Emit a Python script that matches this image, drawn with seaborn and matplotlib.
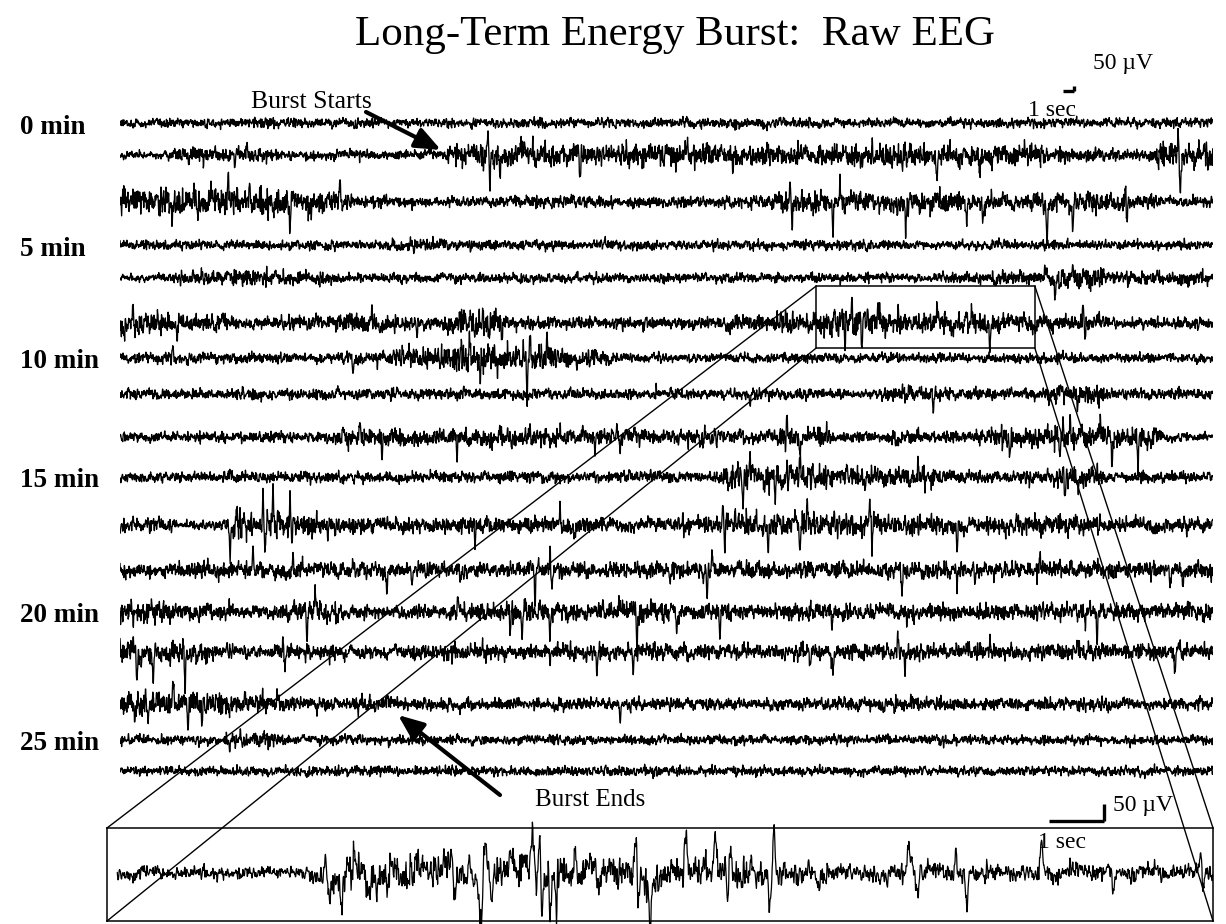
import numpy as np
import pandas as pd
import matplotlib
matplotlib.use("Agg")
import matplotlib.pyplot as plt
import seaborn as sns
from matplotlib.patches import Rectangle, ConnectionPatch

# ---------------- data ----------------
TITLE = "Long-Term Energy Burst:  Raw EEG"
ROW_SECONDS = 100.0                      # each trace row covers 100 s
ROW_LABELS = ["0 min", "5 min", "10 min", "15 min", "20 min", "25 min"]
ROW_LABEL_ROWS = [0, 3, 6, 9, 12, 15]

# per-row amplitude envelope (half-height of the trace band, µV), 20 segments of 5 s
ROW_ENVELOPE_UV = [
    [35, 35, 40, 35, 35, 35, 35, 35, 35, 35, 35, 35, 35, 35, 35, 35, 35, 35, 35, 35],
    [30, 60, 50, 35, 35, 40, 90, 80, 80, 80, 90, 80, 80, 90, 90, 80, 80, 60, 40, 90],
    [100, 100, 110, 90, 50, 40, 40, 45, 45, 40, 45, 50, 80, 80, 80, 80, 60, 80, 60, 35],
    [35, 35, 35, 35, 35, 45, 35, 35, 35, 35, 35, 35, 35, 35, 35, 35, 35, 35, 35, 35],
    [30, 50, 60, 50, 35, 35, 35, 35, 35, 35, 35, 35, 35, 35, 35, 35, 60, 80, 50, 50],
    [80, 70, 40, 60, 70, 50, 100, 50, 40, 50, 40, 60, 80, 100, 80, 80, 60, 60, 40, 40],
    [40, 40, 40, 40, 50, 80, 110, 100, 60, 35, 35, 35, 35, 35, 35, 35, 35, 35, 35, 35],
    [40, 40, 40, 40, 40, 40, 40, 40, 40, 40, 40, 40, 40, 40, 60, 45, 40, 70, 40, 40],
    [40, 40, 40, 40, 70, 60, 70, 70, 60, 60, 60, 50, 70, 40, 50, 50, 80, 90, 80, 35],
    [40, 40, 40, 40, 40, 45, 40, 40, 40, 50, 40, 100, 90, 70, 70, 45, 50, 80, 40, 40],
    [50, 40, 100, 80, 60, 60, 60, 60, 60, 50, 60, 90, 90, 90, 70, 70, 70, 70, 60, 60],
    [50, 60, 60, 60, 60, 60, 60, 60, 60, 60, 60, 60, 60, 60, 60, 60, 60, 60, 60, 60],
    [80, 60, 50, 80, 50, 50, 70, 80, 70, 80, 60, 60, 60, 60, 60, 60, 60, 60, 60, 60],
    [80, 80, 50, 60, 50, 60, 60, 60, 60, 60, 60, 60, 60, 60, 60, 60, 60, 60, 60, 60],
    [90, 90, 70, 50, 60, 45, 45, 45, 45, 45, 45, 45, 45, 55, 50, 45, 45, 45, 45, 45],
    [35, 35, 60, 35, 35, 35, 35, 35, 35, 35, 35, 35, 35, 35, 35, 35, 35, 35, 35, 35],
    [35, 35, 35, 35, 35, 35, 35, 35, 35, 35, 35, 35, 35, 35, 35, 35, 35, 35, 35, 35],
]

# prominent spikes per row: (time s, peak µV)
ROW_SPIKES = [
    [(14.0, 50), (56.7, -50), (76.0, 45)],
    [(10.5, -140), (11.6, 80), (33.85, -280), (33.67, 180), (34.77, -200), (42.09, -250),
     (51.88, 160), (56.08, -140), (74.75, -260), (78.68, -200), (96.98, -400), (96.80, 280),
     (99.54, -140)],
    [(4.76, -230), (9.88, 220), (15.55, -320), (20.13, 160), (61.48, -270), (61.30, 170),
     (65.23, -370), (65.87, 170), (71.9, -300), (74.75, 140), (77.49, -220), (78.96, -250),
     (84.81, -400), (87.19, -260), (92.13, -200), (92.0, 140)],
    [(26.9, -70)],
    [(85.54, -180), (84.63, 120)],
    [(1.19, 170), (1.37, -150), (5.21, -150), (8.42, 100), (27.17, -170), (33.21, 180),
     (34.95, -180), (66.33, -250), (66.97, 280), (67.89, -320), (69.35, 200), (71.18, 150),
     (74.75, 140), (77.95, 140), (79.60, -250), (83.53, -120), (88.11, 180), (88.29, -160)],
    [(4.85, 120), (21.32, -180), (32.94, -270), (32.02, 180), (37.24, -320), (37.51, 220),
     (39.07, 220), (38.43, -180), (41.81, -140)],
    [(57.64, -130), (74.4, -200), (85.0, -140), (87.6, -120)],
    [(21.96, 150), (23.97, -220), (30.83, -230), (37.51, 150), (43.46, -150), (45.47, 150),
     (45.75, -150), (61.02, 200), (62.21, -220), (81.43, -200), (86.0, -200), (86.92, 150),
     (89.66, 200), (90.76, -280), (93.14, -250)],
    [(57.0, -250), (57.64, 200), (59.93, -280), (62.21, 180), (66.51, 150), (68.16, -150),
     (73.01, 150), (86.46, -180), (87.65, -140)],
    [(10.06, -250), (10.70, 200), (13.08, 300), (13.27, -270), (14.0, 280), (15.55, 300),
     (15.74, -200), (19.03, -200), (32.48, -200), (40.26, 150), (41.63, -150), (55.17, 170),
     (55.35, -250), (59.29, -270), (62.21, -250), (62.86, 250), (68.62, 230), (68.80, -230),
     (76.58, -300)],
    [(12.17, 170), (15.83, 170), (24.43, -230), (26.72, -150), (31.11, -130), (37.97, -330),
     (39.34, 180), (39.52, -220), (50.32, -150), (53.71, -300), (54.16, 150), (71.55, -250),
     (76.58, -180), (78.04, 160), (78.23, -180), (84.17, 150), (96.07, -200), (97.26, -180)],
    [(0.91, 100), (1.19, -100), (17.11, -300), (17.84, 220), (30.92, 200), (35.68, -230),
     (36.78, -280), (39.34, -300), (44.19, 150), (47.30, -350), (50.96, -200), (54.89, -200),
     (65.14, -180), (72.0, -150), (88.29, -200), (89.39, -300)],
    [(1.19, 180), (1.56, -370), (3.02, -280), (5.76, 130), (5.95, -300), (14.91, 100),
     (15.10, -250), (39.34, -130), (43.64, -220), (46.94, -180), (63.13, -150), (65.23, -220),
     (71.18, 150), (71.82, -250), (79.60, 120), (96.52, -250)],
    [(1.37, -200), (2.56, -180), (4.85, 180), (6.22, -270), (7.50, -180), (14.36, 120),
     (21.77, -120), (45.75, -150)],
    [(10.06, -100), (11.0, 80)],
    [],
]

# zoomed 20 s segment (inset)
INSET_SECONDS = 20.0
INSET_ENVELOPE_UV = [12, 12, 12, 12, 35, 30, 25, 30, 30, 30, 25, 25, 20, 15, 18, 18, 15, 15, 15, 15]
INSET_SPIKES = [
    (0.65, 15), (3.96, 75), (4.02, -81), (4.23, -75), (4.48, 75), (4.76, -66), (5.08, -60),
    (5.12, 51), (6.24, 69), (6.28, -120), (6.56, 45), (6.76, -150), (6.84, 111), (6.96, -90),
    (7.29, 39), (7.54, 60), (7.69, 90), (7.83, 141), (7.86, -150), (8.01, -135), (8.12, -120),
    (8.46, 66), (8.73, 45), (9.49, -69), (9.57, 126), (9.60, -150), (9.82, -90), (10.47, 129),
    (10.81, 60), (11.0, 99), (11.23, -111), (11.27, 90), (11.65, 60), (11.99, -114),
    (12.06, 132), (12.69, 30), (12.88, -39), (14.5, 66), (14.65, -75), (15.35, 54),
    (15.55, -114), (16.9, 84), (18.2, -60), (19.78, 60), (19.82, -54),
]
ZOOM_WINDOW_S = (63.7, 83.7)            # segment of the 6th row shown in the inset

SCALE_SEC = 1.0
SCALE_UV = 50.0

# ---------------- layout (pixels of the 1226x924 canvas) ----------------
W, H = 1226, 924
MAIN_L, MAIN_R, MAIN_T, MAIN_B = 120, 1213, 40, 800     # 10 µV per pixel vertically
UV_PER_PX = 10.0
ROW_BASE_PX = [123, 155, 202, 245, 278, 323, 358, 394, 437, 477, 525, 570, 612, 652, 704, 740, 771]
ROW_OFFSETS = [-(p - MAIN_T) * UV_PER_PX for p in ROW_BASE_PX]
INS_L, INS_R, INS_T, INS_B, INS_BASE = 107, 1213, 828, 921, 873
INS_UV_PER_PX = 3.0

# ---------------- build signals ----------------
rng = np.random.default_rng(5)


def smooth(x, n):
    k = np.ones(n) / n
    return np.convolve(np.pad(x, (n // 2, n - 1 - n // 2), mode="edge"), k, mode="valid")


def build(env, spikes, total, fs, width, slow_frac, div):
    t = np.arange(0, total, 1.0 / fs)
    seg = total / len(env)
    idx = np.minimum((t / seg).astype(int), len(env) - 1)
    e = smooth(np.asarray(env, float)[idx], max(3, int(fs * 0.8)))
    fast = smooth(rng.standard_normal(t.size), 2)
    fast /= fast.std()
    slow = smooth(rng.standard_normal(t.size), max(3, int(fs * 0.25)))
    slow /= slow.std()
    v = e / div * (fast + slow_frac * slow)
    for ts, a in spikes:
        v += a * np.exp(-0.5 * ((t - ts) / width) ** 2)
    return t, v


frames = []
for i, (env, spk) in enumerate(zip(ROW_ENVELOPE_UV, ROW_SPIKES)):
    t, v = build(env, spk, ROW_SECONDS, 40, 0.05, 0.35, 1.7)
    frames.append(pd.DataFrame({"t": t, "v": v + ROW_OFFSETS[i], "row": i}))
df_main = pd.concat(frames, ignore_index=True)

ti, vi = build(INSET_ENVELOPE_UV, INSET_SPIKES, INSET_SECONDS, 140, 0.022, 0.5, 1.3)
mask = ti >= 0.18
df_ins = pd.DataFrame({"t": ti[mask], "v": vi[mask]})

# ---------------- plot ----------------
sns.set_theme(style="white")
plt.rcParams["font.family"] = ["Liberation Serif", "DejaVu Serif"]
plt.rcParams["text.color"] = "black"

fig = plt.figure(figsize=(W / 100, H / 100), dpi=100)
ax = fig.add_axes([MAIN_L / W, 1 - MAIN_B / H, (MAIN_R - MAIN_L) / W, (MAIN_B - MAIN_T) / H])
ax.set_xlim(0, ROW_SECONDS)
ax.set_ylim(-(MAIN_B - MAIN_T) * UV_PER_PX, 0)
sns.lineplot(data=df_main, x="t", y="v", units="row", estimator=None, sort=False,
             color="black", linewidth=0.95, ax=ax, legend=False)
ax.axis("off")

px_per_s = (MAIN_R - MAIN_L) / ROW_SECONDS
def t_of(px):
    return (px - MAIN_L) / px_per_s
def uv_of(py):
    return -(py - MAIN_T) * UV_PER_PX

# row labels
for lab, r in zip(ROW_LABELS, ROW_LABEL_ROWS):
    ax.text(t_of(20), ROW_OFFSETS[r] - 40, lab, ha="left", va="center",
            fontsize=19.5, fontweight="bold", color="black", clip_on=False)

# zoom box on row 6
box_top, box_bot = uv_of(286), uv_of(348)
ax.add_patch(Rectangle((ZOOM_WINDOW_S[0], box_bot), ZOOM_WINDOW_S[1] - ZOOM_WINDOW_S[0],
                       box_top - box_bot, fill=False, ec="black", lw=1.1, zorder=5))

# top scale bar
sb_t0, sb_y = t_of(1063), uv_of(91)
ax.plot([sb_t0, sb_t0 + SCALE_SEC], [sb_y, sb_y], color="black", lw=2.4,
        solid_capstyle="butt", clip_on=False)
ax.plot([sb_t0 + SCALE_SEC, sb_t0 + SCALE_SEC], [sb_y, sb_y + SCALE_UV], color="black",
        lw=2.4, solid_capstyle="butt", clip_on=False)
ax.text(t_of(1093), uv_of(63), "50 µV", ha="left", va="center", fontsize=17, clip_on=False)
ax.text(t_of(1052), uv_of(111), "1 sec", ha="center", va="center", fontsize=17, clip_on=False)

# annotations
arrow_kw = dict(arrowstyle="-|>,head_length=1.1,head_width=0.45", lw=3.0,
                color="black", mutation_scale=14, shrinkA=0, shrinkB=0)
ax.text(t_of(311), uv_of(102), "Burst Starts", ha="center", va="center", fontsize=18.5)
ax.annotate("", xy=(t_of(441), uv_of(150)), xytext=(t_of(366), uv_of(112)),
            arrowprops=arrow_kw)
ax.text(t_of(590), uv_of(800), "Burst Ends", ha="center", va="center", fontsize=18,
        clip_on=False)
ax.annotate("", xy=(t_of(398), uv_of(715)), xytext=(t_of(500), uv_of(795)),
            arrowprops=arrow_kw, annotation_clip=False)

# inset
ax2 = fig.add_axes([INS_L / W, 1 - INS_B / H, (INS_R - INS_L) / W, (INS_B - INS_T) / H])
ax2.set_xlim(0, INSET_SECONDS)
ax2.set_ylim(-(INS_B - INS_BASE) * INS_UV_PER_PX, (INS_BASE - INS_T) * INS_UV_PER_PX)
sns.lineplot(data=df_ins, x="t", y="v", estimator=None, sort=False, color="black",
             linewidth=0.9, ax=ax2, legend=False)
for ln in ax2.lines:
    ln.set_clip_on(False)
ax2.set_xticks([]); ax2.set_yticks([])
ax2.set_xlabel(""); ax2.set_ylabel("")
ax2.set_facecolor("none")
for s in ax2.spines.values():
    s.set_color("black"); s.set_linewidth(1.1); s.set_visible(True)

ipx = (INS_R - INS_L) / INSET_SECONDS
def ti_of(px):
    return (px - INS_L) / ipx
def ui_of(py):
    return (INS_BASE - py) * INS_UV_PER_PX

b_t0, b_y = ti_of(1049), ui_of(821)
ax2.plot([b_t0, b_t0 + SCALE_SEC], [b_y, b_y], color="black", lw=2.4,
         solid_capstyle="butt", clip_on=False)
ax2.plot([b_t0 + SCALE_SEC, b_t0 + SCALE_SEC], [b_y, b_y + SCALE_UV], color="black", lw=2.4,
         solid_capstyle="butt", clip_on=False)
ax2.text(ti_of(1113), ui_of(806), "50 µV", ha="left", va="center", fontsize=17, clip_on=False)
ax2.text(ti_of(1062), ui_of(843), "1 sec", ha="center", va="center", fontsize=17, clip_on=False)

# connector lines
for (xa, ya), (xb, yb) in [((ZOOM_WINDOW_S[0], box_top), (0, 1)), ((ZOOM_WINDOW_S[0], box_bot), (0, 0)),
                           ((ZOOM_WINDOW_S[1], box_top), (1, 1)), ((ZOOM_WINDOW_S[1], box_bot), (1, 0))]:
    con = ConnectionPatch(xyA=(xa, ya), coordsA=ax.transData, xyB=(xb, yb),
                          coordsB=ax2.transAxes, color="black", lw=1.0)
    fig.add_artist(con)

fig.text(675 / W, 1 - 35 / H, TITLE, ha="center", va="center", fontsize=31, color="black")

fig.savefig("out.png", dpi=100, facecolor="white")
